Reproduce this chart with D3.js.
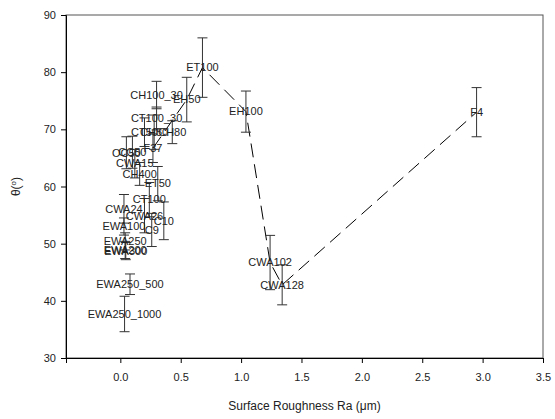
<!DOCTYPE html>
<html>
<head>
<meta charset="utf-8">
<script src="https://cdn.jsdelivr.net/npm/d3@7"></script>
<style>
  body { margin: 0; background: #fff; }
  text { font-family: Arial, "Liberation Sans", sans-serif; }
</style>
</head>
<body>
<svg id="chart" width="555" height="419"></svg>
<script>
// sample names, roughness (um), contact angle (deg), error (deg)
let labels = ["F4", "ET100", "EH50", "EH100", "CWA102", "CWA128",
    "CH100_30", "CT100_30", "CT50", "CH50", "CH80", "F37", "OC50", "CC50",
    "CWA15", "CH400", "ET50", "CT100", "CWA24", "CWA26", "C10", "C9",
    "EWA100", "EWA250", "EWA200", "EWA300", "EWA250_500", "EWA250_1000"];
let roughness = [2.95, 0.68, 0.55, 1.04, 1.24, 1.34,
    0.30, 0.30, 0.20, 0.28, 0.43, 0.27, 0.05, 0.10,
    0.12, 0.16, 0.31, 0.24, 0.03, 0.20, 0.36, 0.26,
    0.03, 0.04, 0.04, 0.045, 0.08, 0.035];
let angle = [73.0, 80.8, 75.2, 73.1, 46.7, 42.8,
    76.0, 71.9, 69.5, 69.5, 69.5, 66.7, 65.9, 66.0,
    64.0, 62.2, 60.5, 57.7, 56.1, 54.9, 54.0, 52.4,
    53.0, 50.4, 48.9, 48.7, 42.9, 37.7];
let angleErr = [4.3, 5.2, 3.9, 3.6, 4.75, 3.5,
    2.4, 2.0, 2.5, 3.0, 2.0, 2.5, 2.8, 2.8,
    2.5, 2.0, 3.0, 3.0, 2.5, 3.0, 3.3, 2.9,
    1.5, 1.5, 1.5, 1.5, 1.8, 3.1];
// samples joined by the dashed line
let lineSamples = ["F37", "EH50", "ET100", "EH100", "CWA102", "CWA128", "F4"];

let xTicks = [0, 0.5, 1, 1.5, 2, 2.5, 3, 3.5];
let yTicks = [30, 40, 50, 60, 70, 80, 90];

let data = labels.map((d, i) => ({
    name: d, x: roughness[i], y: angle[i], err: angleErr[i]
}));

let svg = d3.select("#chart");
let margin = {left: 66, right: 12, top: 15, bottom: 61};
let width = 555 - margin.left - margin.right;
let height = 419 - margin.top - margin.bottom;

let g = svg.append("g")
    .attr("transform", `translate(${margin.left}, ${margin.top})`);

let x = d3.scaleLinear().domain([-0.45, 3.5]).range([0, width]);
let y = d3.scaleLinear().domain([30, 90]).range([height, 0]);

// frame
g.append("rect")
    .attr("width", width)
    .attr("height", height)
    .style("fill", "none")
    .style("stroke", "#555")
    .style("stroke-width", 1);

let xAxis = g.append("g")
    .attr("transform", `translate(0, ${height})`)
    .call(d3.axisBottom(x).tickValues(xTicks).tickFormat(d3.format(".1f")).tickSizeOuter(0).tickSize(5).tickPadding(10));

let yAxis = g.append("g")
    .call(d3.axisLeft(y).tickValues(yTicks).tickSizeOuter(0).tickSize(5).tickPadding(5));

[xAxis, yAxis].forEach(a => {
    a.select(".domain").style("stroke", "#000");
    a.selectAll("text").style("font-size", "11px").style("fill", "#222")
        .style("font-family", "Arial, 'Liberation Sans', sans-serif");
});

// dashed connecting line
let lineData = lineSamples.map(n => data.find(d => d.name == n));
g.append("path")
    .datum(lineData)
    .attr("d", d3.line().x(d => x(d.x)).y(d => y(d.y)))
    .style("fill", "none")
    .style("stroke", "#000")
    .style("stroke-width", 1)
    .style("stroke-dasharray", "14,7");

// error bars
let bars = g.append("g").selectAll("g")
    .data(data)
    .enter().append("g")
    .style("stroke", "#333")
    .style("stroke-width", 1);

bars.append("line")
    .attr("x1", d => x(d.x)).attr("x2", d => x(d.x))
    .attr("y1", d => y(d.y + d.err)).attr("y2", d => y(d.y - d.err));
bars.append("line")
    .attr("x1", d => x(d.x) - 5).attr("x2", d => x(d.x) + 5)
    .attr("y1", d => y(d.y + d.err)).attr("y2", d => y(d.y + d.err));
bars.append("line")
    .attr("x1", d => x(d.x) - 5).attr("x2", d => x(d.x) + 5)
    .attr("y1", d => y(d.y - d.err)).attr("y2", d => y(d.y - d.err));

// point labels
g.append("g").selectAll("text")
    .data(data)
    .enter().append("text")
    .attr("x", d => x(d.x))
    .attr("y", d => y(d.y))
    .attr("dy", "0.35em")
    .attr("text-anchor", "middle")
    .style("font-size", "11px")
    .style("fill", "#222")
    .text(d => d.name);

// axis titles
svg.append("text")
    .attr("x", margin.left + width / 2)
    .attr("y", 410)
    .attr("text-anchor", "middle")
    .style("font-size", "12px")
    .style("fill", "#222")
    .text("Surface Roughness Ra (\u03bcm)");

let yt = svg.append("text")
    .attr("transform", `translate(20, ${margin.top + height / 2}) rotate(-90)`)
    .attr("text-anchor", "middle")
    .style("font-size", "12px")
    .style("fill", "#222");
yt.append("tspan").text("\u03b8(");
yt.append("tspan").attr("dy", -4).style("font-size", "8px").text("o");
yt.append("tspan").attr("dy", 4).text(")");
</script>
</body>
</html>
